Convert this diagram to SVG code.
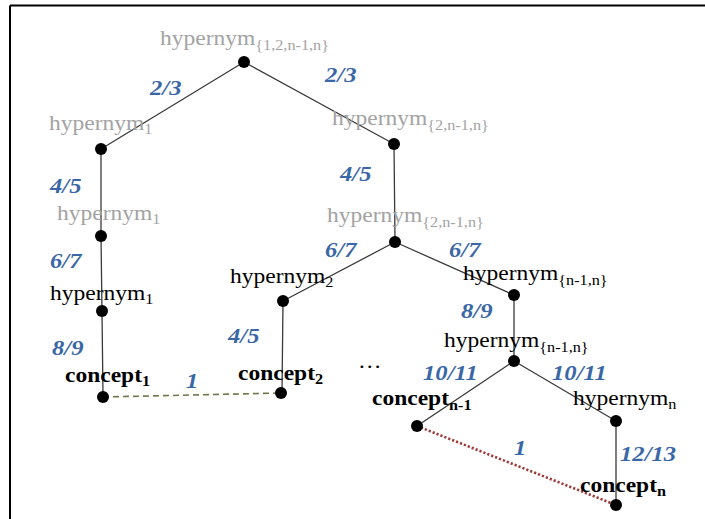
<svg xmlns="http://www.w3.org/2000/svg" width="705" height="519" viewBox="0 0 705 519">
<style>
.t{font-family:"Liberation Serif","Times New Roman",serif;font-size:21px}
.g{fill:#a3a3a3}
.k{fill:#000}
.b{font-weight:bold}
.s{font-size:14.5px}
.f{font-family:"Liberation Serif","Times New Roman",serif;font-size:22px;font-weight:bold;font-style:italic;fill:#3a67a6}
.e{stroke:#3a3a3a;stroke-width:1.3;fill:none}
.dot{fill:#000}
</style>
<rect width="705" height="519" fill="#fff"/>
<path d="M10 5.5H705M10 5.5V519" stroke="#000" stroke-width="2" fill="none"/>
<g id="connectors">
<path class="e" d="M244 62L101 149M244 62L394 144M101 149L101 236M394 144L395 242M101 236L102 311M395 242L283 301M395 242L514 295M102 311L103 397M283 301L282 393M514 295L514 361M514 361L417 426M514 361L616 421M616 421L616 505"/>
<path d="M103 397L281 393" stroke="#6b7a4a" stroke-width="1.6" stroke-dasharray="6 4" fill="none"/>
<path d="M417 426L616 505" stroke="#a03838" stroke-width="2.6" stroke-dasharray="2.2 2" fill="none"/>
</g>
<g id="edge-labels">
<text class="f" transform="translate(150,95) scale(1.12,1)">2/3</text>
<text class="f" transform="translate(325,82) scale(1.12,1)">2/3</text>
<text class="f" transform="translate(50,193) scale(1.12,1)">4/5</text>
<text class="f" transform="translate(340,181) scale(1.12,1)">4/5</text>
<text class="f" transform="translate(50,268) scale(1.12,1)">6/7</text>
<text class="f" transform="translate(325,257) scale(1.12,1)">6/7</text>
<text class="f" transform="translate(449,257) scale(1.12,1)">6/7</text>
<text class="f" transform="translate(52,355) scale(1.12,1)">8/9</text>
<text class="f" transform="translate(228,343) scale(1.12,1)">4/5</text>
<text class="f" transform="translate(461,318) scale(1.12,1)">8/9</text>
<text class="f" transform="translate(186,388) scale(1.12,1)">1</text>
<text class="f" transform="translate(423,380) scale(1.12,1)">10/11</text>
<text class="f" transform="translate(552,380) scale(1.12,1)">10/11</text>
<text class="f" transform="translate(514,455) scale(1.12,1)">1</text>
<text class="f" transform="translate(620,461) scale(1.12,1)">12/13</text>
</g>
<g id="n-root">
<text class="t g" transform="translate(160,45) scale(1.12,1)">hypernym<tspan class="s" dy="5">{1,2,n-1,n}</tspan></text>
<circle class="dot" cx="244" cy="62" r="6"/>
</g>
<g id="n-h1a">
<text class="t g" transform="translate(49,130) scale(1.12,1)">hypernym<tspan class="s" dy="4">1</tspan></text>
<circle class="dot" cx="101" cy="149" r="6"/>
</g>
<g id="n-h2n1n-a">
<text class="t g" transform="translate(332,125) scale(1.12,1)">hypernym<tspan class="s" dy="5">{2,n-1,n}</tspan></text>
<circle class="dot" cx="394" cy="144" r="6"/>
</g>
<g id="n-h1b">
<text class="t g" transform="translate(57,220) scale(1.12,1)">hypernym<tspan class="s" dy="4">1</tspan></text>
<circle class="dot" cx="101" cy="236" r="6"/>
</g>
<g id="n-h2n1n-b">
<text class="t g" transform="translate(327,222) scale(1.12,1)">hypernym<tspan class="s" dy="5">{2,n-1,n}</tspan></text>
<circle class="dot" cx="395" cy="242" r="6"/>
</g>
<g id="n-h1c">
<text class="t k" transform="translate(50,300) scale(1.12,1)">hypernym<tspan class="s" dy="4">1</tspan></text>
<circle class="dot" cx="102" cy="311" r="6"/>
</g>
<g id="n-h2">
<text class="t k" transform="translate(230,283) scale(1.12,1)">hypernym<tspan class="s" dy="4">2</tspan></text>
<circle class="dot" cx="283" cy="301" r="6"/>
</g>
<g id="n-hn1n-a">
<text class="t k" transform="translate(463,280) scale(1.12,1)">hypernym<tspan class="s" dy="5">{n-1,n}</tspan></text>
<circle class="dot" cx="514" cy="295" r="6"/>
</g>
<g id="n-hn1n-b">
<text class="t k" transform="translate(444,347) scale(1.12,1)">hypernym<tspan class="s" dy="5">{n-1,n}</tspan></text>
<circle class="dot" cx="514" cy="361" r="6"/>
</g>
<g id="n-hn">
<text class="t k" transform="translate(573,405) scale(1.12,1)">hypernym<tspan class="s" dy="4">n</tspan></text>
<circle class="dot" cx="616" cy="421" r="6"/>
</g>
<g id="n-c1">
<text class="t k b" transform="translate(65,382) scale(1.12,1)">concept<tspan class="s" dy="4">1</tspan></text>
<circle class="dot" cx="103" cy="397" r="6"/>
</g>
<g id="n-c2">
<text class="t k b" transform="translate(238,380) scale(1.12,1)">concept<tspan class="s" dy="4">2</tspan></text>
<circle class="dot" cx="281" cy="393" r="6"/>
</g>
<g id="n-cn1">
<text class="t k b" transform="translate(372,405) scale(1.12,1)">concept<tspan class="s" dy="5">n-1</tspan></text>
<circle class="dot" cx="417" cy="426" r="6"/>
</g>
<g id="n-cn">
<text class="t k b" transform="translate(580,492) scale(1.12,1)">concept<tspan class="s" dy="4">n</tspan></text>
<circle class="dot" cx="616" cy="505" r="6"/>
</g>
<text class="t k" transform="translate(358,368) scale(1.12,1)">…</text>
</svg>
